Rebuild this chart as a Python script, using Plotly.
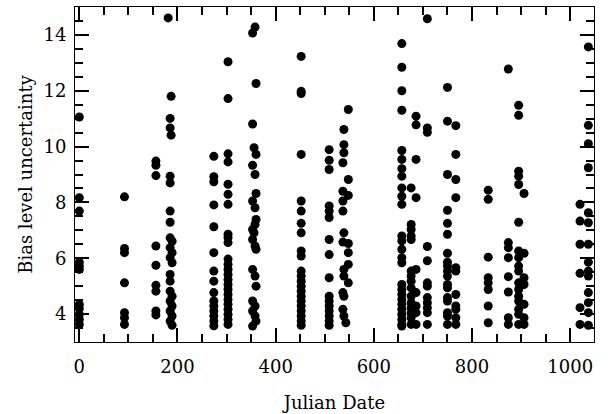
import plotly.graph_objects as go

jd_groups = [0, 92, 156, 181, 187, 185, 189, 274, 303, 358, 353, 360, 356,
             452, 509, 548, 539, 537, 543, 657, 676, 686, 709, 750, 767,
             833, 874, 895, 906, 1020, 1037]
bias_groups = [
    [11.06, 8.17, 7.69, 5.86, 5.72, 5.60, 4.35, 4.20, 3.99, 3.81, 3.63],
    [8.20, 6.35, 6.20, 5.12, 4.05, 3.87, 3.63],
    [9.48, 9.33, 8.96, 6.44, 5.75, 5.03, 4.82, 4.11, 3.97],
    [14.61],
    [11.80, 10.41],
    [11.01, 10.67, 8.94, 8.70, 7.69, 7.29, 6.73, 6.38, 6.02, 5.42, 5.18, 4.82, 4.47, 4.11, 3.75],
    [6.61, 6.20, 5.84, 4.64, 4.29, 3.93, 3.60],
    [9.65, 8.92, 8.74, 7.91, 7.13, 6.20, 5.54, 5.18, 4.77, 4.47, 4.29, 4.11, 3.93, 3.75, 3.58],
    [13.04, 11.72, 9.74, 9.45, 8.65, 8.29, 7.93, 6.86, 6.74, 6.56, 5.97, 5.78, 5.60, 5.42,
     5.24, 5.06, 4.88, 4.70, 4.52, 4.35, 4.17, 3.99, 3.81, 3.63],
    [14.28, 9.00, 7.81, 7.21, 6.44, 5.36, 4.29, 3.93],
    [14.07, 10.81, 9.33, 8.05, 7.03, 6.67, 5.60, 4.47, 4.11, 3.57],
    [12.26, 9.72, 8.32, 7.39, 6.32, 5.00, 3.75],
    [9.96, 6.91],
    [13.23, 11.98, 11.90, 9.72, 8.05, 7.69, 7.25, 6.91, 6.26, 6.08, 5.54, 5.36, 5.18, 5.00,
     4.82, 4.64, 4.47, 4.29, 4.11, 3.93, 3.75, 3.60],
    [9.89, 9.51, 9.18, 7.87, 7.69, 7.46, 6.67, 6.13, 5.30, 4.64, 4.47, 4.29, 4.11, 3.93, 3.75, 3.60],
    [11.33, 8.82, 8.25, 6.53, 6.20, 5.78, 5.12],
    [10.61, 10.07, 9.78, 6.91, 5.60, 5.36, 4.64, 3.93],
    [9.42, 8.40, 8.05, 7.69, 6.58, 4.77, 4.17],
    [3.69],
    [13.69, 12.84, 12.00, 11.30, 9.86, 9.54, 9.21, 8.94, 8.52, 8.22, 7.93, 6.80, 6.62, 6.32,
     6.02, 5.84, 5.06, 4.88, 4.70, 4.52, 4.35, 4.17, 3.99, 3.81, 3.63, 3.57],
    [8.52, 7.21, 7.03, 6.80, 6.67, 5.54, 5.36, 5.18, 4.94, 4.64, 4.41, 4.23, 4.05, 3.87, 3.63],
    [11.09, 10.78, 9.54, 8.17, 5.60, 4.77, 4.29, 4.05, 3.63],
    [14.58, 10.67, 10.51, 6.42, 5.91, 5.12, 5.00, 4.59, 4.41, 4.23, 4.05, 3.63],
    [12.12, 10.91, 9.00, 7.72, 7.25, 6.86, 6.18, 5.86, 5.72, 5.54, 5.36, 5.06, 4.94, 4.59,
     4.47, 4.05, 3.93, 3.63],
    [10.75, 9.72, 8.82, 8.17, 5.66, 5.54, 4.70, 4.29, 4.17, 3.87, 3.63],
    [8.44, 8.11, 6.04, 5.30, 5.12, 4.88, 4.29, 3.69],
    [12.78, 6.56, 6.38, 6.02, 5.34, 4.79, 3.87, 3.63],
    [11.48, 11.12, 9.12, 8.94, 8.64, 7.29, 6.26, 6.02, 5.72, 5.54, 5.12, 4.88, 4.64, 4.47,
     4.17, 3.99, 3.63],
    [8.32, 6.18, 5.30, 5.06, 4.35, 3.87, 3.63],
    [7.93, 7.33, 6.50, 5.46, 4.23, 3.63],
    [13.57, 10.76, 10.10, 9.24, 7.63, 7.27, 6.50, 5.86, 5.54, 5.36, 4.77, 4.41, 4.05, 3.60],
]

julian_date = []
bias_uncertainty = []
for jd, vals in zip(jd_groups, bias_groups):
    julian_date += [jd] * len(vals)
    bias_uncertainty += vals

x_tick_vals = [0, 200, 400, 600, 800, 1000]
y_tick_vals = [4, 6, 8, 10, 12, 14]

FONT = "DejaVu Serif"
frame = "#000000"

fig = go.Figure(go.Scatter(
    x=julian_date, y=bias_uncertainty, mode="markers",
    marker=dict(color="black", size=9, line=dict(width=0)),
    hoverinfo="x+y",
))

axis_common = dict(
    showline=True, linecolor=frame, linewidth=1, mirror="allticks",
    ticks="inside", tickcolor=frame, tickwidth=1.5, ticklen=14,
    showgrid=False, zeroline=False, automargin=False, tickmode="array",
    tickfont=dict(family=FONT, size=18, color="black"),
)

fig.update_layout(
    width=612, height=414,
    margin=dict(l=75, r=18, t=7, b=72),
    paper_bgcolor="white", plot_bgcolor="white",
    showlegend=False,
    xaxis=dict(
        range=[-8.8, 1048.5], tickvals=x_tick_vals, ticklabelstandoff=8,
        minor=dict(dtick=50, tick0=0, ticks="inside", ticklen=8, tickcolor=frame, tickwidth=1.5, showgrid=False),
        title=dict(text="Julian Date", font=dict(family=FONT, size=18, color="black"), standoff=20),
        **axis_common,
    ),
    yaxis=dict(
        range=[3.0, 15.0], tickvals=y_tick_vals, ticklabelstandoff=4,
        minor=dict(dtick=0.5, tick0=0, ticks="inside", ticklen=8, tickcolor=frame, tickwidth=1.5, showgrid=False),
        title=dict(text="Bias level uncertainty", font=dict(family=FONT, size=18, color="black"), standoff=6),
        **axis_common,
    ),
)

fig.write_html("out.html", config={"displayModeBar": False},
               post_script="document.body.style.margin='0';")
